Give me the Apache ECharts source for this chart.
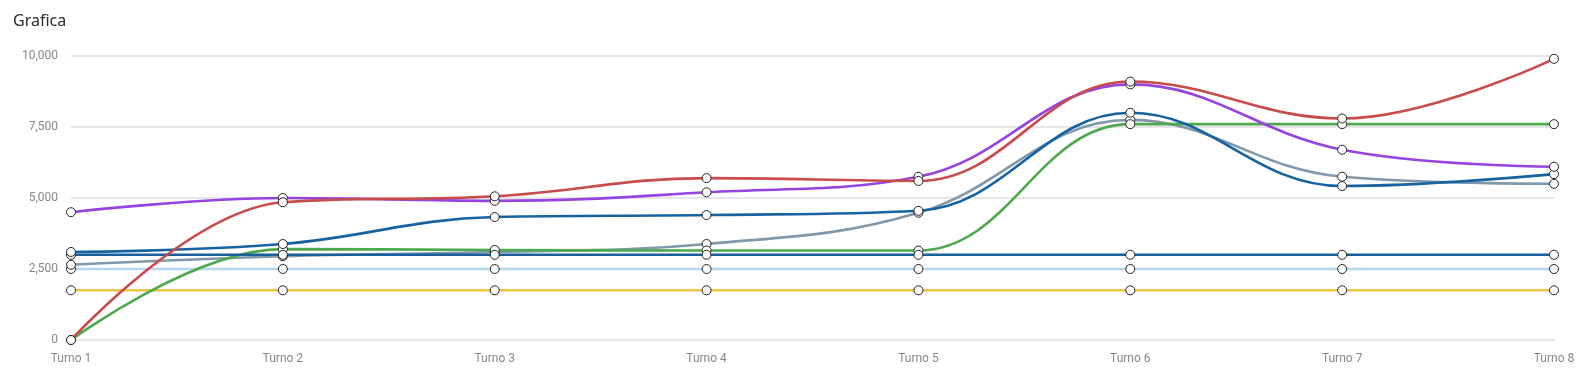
<!DOCTYPE html>
<html>
<head>
<meta charset="utf-8">
<script src="https://cdn.jsdelivr.net/npm/echarts@6/dist/echarts.min.js"></script>
<style>
html,body{margin:0;padding:0;background:#fff;}
#chart{width:1587px;height:385px;}
</style>
</head>
<body>
<div id="chart"></div>
<script>
var categories = ['Turno 1','Turno 2','Turno 3','Turno 4','Turno 5','Turno 6','Turno 7','Turno 8'];
var serieYellow = [1750,1750,1750,1750,1750,1750,1750,1750];
var serieLightBlue = [2500,2500,2500,2500,2500,2500,2500,2500];
var serieFlatBlue = [3000,3000,3000,3000,3000,3000,3000,3000];
var serieGrey = [2650,2950,3100,3380,4480,7750,5750,5500];
var serieGreen = [0,3200,3170,3150,3150,7600,7600,7600];
var serieBlue = [3100,3380,4330,4400,4550,8000,5420,5840];
var seriePurple = [4500,5000,4900,5200,5750,9000,6700,6100];
var serieRed = [0,4850,5060,5700,5600,9100,7800,9900];

var yMin = 0, yMax = 10000, yInterval = 2500;

function mk(name, data, color) {
  return {
    name: name, type: 'line', data: data, smooth: 0.4,
    symbol: 'circle', symbolSize: 9, showSymbol: true,
    lineStyle: {color: color, width: 2.6},
    itemStyle: {color: '#fff', borderColor: '#222', borderWidth: 1},
    emphasis: {disabled: true}
  };
}

var chart = echarts.init(document.getElementById('chart'));
chart.setOption({
  animation: false,
  title: {text: 'Grafica', left: 8, top: 8, textStyle: {fontFamily: 'Noto Sans', fontSize: 16, fontWeight: 'normal', color: '#2b2b2b'}},
  grid: {left: 71, right: 33, top: 56, bottom: 45},
  xAxis: {
    type: 'category', data: categories, boundaryGap: false,
    axisLine: {show: true, lineStyle: {color: '#e6e6e6', width: 2}},
    axisTick: {show: false},
    axisLabel: {color: '#888', fontSize: 12, fontFamily: 'Roboto', margin: 13, interval: 0},
    splitLine: {show: false}
  },
  yAxis: {
    type: 'value', min: yMin, max: yMax, interval: yInterval,
    axisLine: {show: false}, axisTick: {show: false},
    axisLabel: {color: '#888', fontSize: 12, fontFamily: 'Roboto', margin: 13,
      formatter: function(v){return v.toLocaleString('en-US');}},
    splitLine: {lineStyle: {color: '#e6e6e6', width: 2}}
  },
  series: [
    mk('S1', serieYellow, '#efc443'),
    mk('S2', serieLightBlue, '#b5d7ef'),
    mk('S3', serieGrey, '#8098aa'),
    mk('S4', serieGreen, '#4ea94e'),
    mk('S5', serieFlatBlue, '#185f9c'),
    mk('S6', serieBlue, '#1763a1'),
    mk('S7', seriePurple, '#9544e0'),
    mk('S8', serieRed, '#c94c4c')
  ]
});
</script>
</body>
</html>
